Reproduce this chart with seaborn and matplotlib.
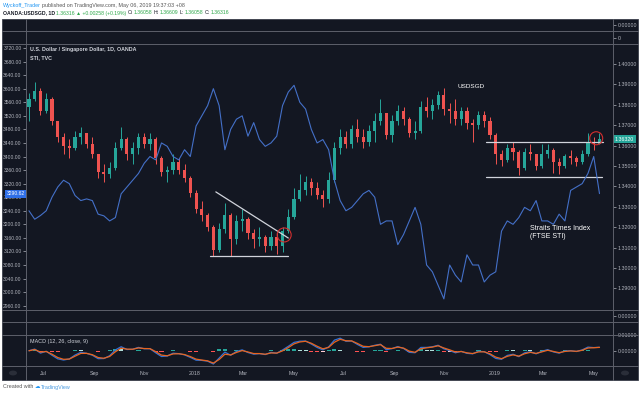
import matplotlib
matplotlib.use("Agg")
import matplotlib.pyplot as plt
import matplotlib.dates as mdates
import matplotlib.transforms as mtransforms
from matplotlib.lines import Line2D
from matplotlib.patches import Rectangle, Ellipse, Circle
import numpy as np
import pandas as pd
import seaborn as sns

W, H = 640, 394

# weekly USDSGD candles (open = previous close)
week_start = "2017-06-14"
usd_open_first = 1.3790
usd_close = [
    1.3830, 1.3870, 1.3770, 1.3830, 1.3720, 1.3640, 1.3600, 1.3590, 1.3640, 1.3660,
    1.3610, 1.3560, 1.3470, 1.3460, 1.3490, 1.3590, 1.3630, 1.3560, 1.3590, 1.3640,
    1.3610, 1.3630, 1.3540, 1.3470, 1.3480, 1.3520, 1.3480, 1.3440, 1.3370, 1.3290,
    1.3260, 1.3200, 1.3090, 1.3190, 1.3260, 1.3140, 1.3230, 1.3240, 1.3170, 1.3140,
    1.3150, 1.3110, 1.3150, 1.3110, 1.3180, 1.3250, 1.3340, 1.3380, 1.3420, 1.3390,
    1.3360, 1.3340, 1.3430, 1.3590, 1.3640, 1.3610, 1.3680, 1.3640, 1.3620, 1.3670,
    1.3720, 1.3760, 1.3650, 1.3720, 1.3770, 1.3730, 1.3660, 1.3670, 1.3790, 1.3770,
    1.3800, 1.3850, 1.3780, 1.3770, 1.3730, 1.3770, 1.3710, 1.3700, 1.3750, 1.3720,
    1.3650, 1.3560, 1.3530, 1.3590, 1.3570, 1.3490, 1.3570, 1.3560, 1.3500, 1.3560,
    1.3580, 1.3520, 1.3500, 1.3550, 1.3540, 1.3520, 1.3560, 1.3620, 1.3606, 1.3632,
]
usd_high = [
    1.3860, 1.3910, 1.3880, 1.3860, 1.3840, 1.3720, 1.3660, 1.3630, 1.3670, 1.3690,
    1.3660, 1.3640, 1.3560, 1.3510, 1.3520, 1.3620, 1.3690, 1.3640, 1.3620, 1.3660,
    1.3660, 1.3660, 1.3640, 1.3550, 1.3500, 1.3560, 1.3540, 1.3510, 1.3450, 1.3380,
    1.3330, 1.3270, 1.3210, 1.3220, 1.3320, 1.3270, 1.3260, 1.3290, 1.3250, 1.3190,
    1.3200, 1.3160, 1.3180, 1.3170, 1.3200, 1.3290, 1.3390, 1.3460, 1.3450, 1.3440,
    1.3420, 1.3380, 1.3470, 1.3620, 1.3680, 1.3670, 1.3700, 1.3730, 1.3680, 1.3700,
    1.3760, 1.3830, 1.3760, 1.3750, 1.3800, 1.3790, 1.3740, 1.3720, 1.3820, 1.3840,
    1.3830, 1.3870, 1.3880, 1.3810, 1.3830, 1.3790, 1.3790, 1.3730, 1.3770, 1.3770,
    1.3740, 1.3660, 1.3580, 1.3610, 1.3620, 1.3580, 1.3590, 1.3610, 1.3560, 1.3610,
    1.3610, 1.3590, 1.3540, 1.3560, 1.3580, 1.3550, 1.3580, 1.3660, 1.3640, 1.3661,
]
usd_low = [
    1.3720, 1.3820, 1.3750, 1.3760, 1.3700, 1.3620, 1.3560, 1.3540, 1.3580, 1.3610,
    1.3590, 1.3540, 1.3440, 1.3420, 1.3440, 1.3480, 1.3580, 1.3530, 1.3510, 1.3560,
    1.3590, 1.3580, 1.3510, 1.3450, 1.3420, 1.3460, 1.3460, 1.3420, 1.3350, 1.3270,
    1.3230, 1.3180, 1.3060, 1.3080, 1.3170, 1.3060, 1.3120, 1.3180, 1.3140, 1.3100,
    1.3110, 1.3080, 1.3090, 1.3070, 1.3080, 1.3170, 1.3240, 1.3330, 1.3360, 1.3360,
    1.3340, 1.3300, 1.3320, 1.3420, 1.3560, 1.3590, 1.3590, 1.3620, 1.3590, 1.3600,
    1.3620, 1.3700, 1.3630, 1.3620, 1.3700, 1.3700, 1.3640, 1.3630, 1.3660, 1.3740,
    1.3730, 1.3780, 1.3750, 1.3710, 1.3700, 1.3700, 1.3680, 1.3620, 1.3680, 1.3690,
    1.3630, 1.3510, 1.3500, 1.3520, 1.3530, 1.3456, 1.3480, 1.3530, 1.3480, 1.3490,
    1.3540, 1.3466, 1.3460, 1.3490, 1.3510, 1.3500, 1.3510, 1.3550, 1.3580, 1.3606,
]
# weekly Straits Times Index (left scale)
sti_close = [
    3240, 3215, 3226, 3240, 3280, 3310, 3330, 3320, 3285, 3270,
    3275, 3270, 3230, 3225, 3210, 3220, 3290, 3310, 3330, 3350,
    3380, 3400, 3390, 3440, 3430, 3400, 3390, 3420, 3400, 3490,
    3520, 3550, 3600, 3550, 3420, 3480, 3510, 3520, 3460, 3500,
    3450, 3430, 3440, 3460, 3550, 3590, 3610, 3560, 3540, 3480,
    3440, 3450, 3420, 3330, 3270, 3240, 3250, 3270, 3290, 3300,
    3280, 3200, 3210, 3210, 3140, 3170, 3210, 3250, 3200, 3080,
    3060, 3020, 2980, 3080, 3050, 3030, 3110, 3080, 3080, 3030,
    3050, 3060, 3180, 3210, 3200, 3220, 3250, 3240, 3270, 3210,
    3210, 3200, 3230, 3210, 3300, 3310, 3320, 3350, 3400, 3290.62,
]

sti_ticks = [2960, 3000, 3040, 3080, 3120, 3160, 3200, 3240, 3280, 3320,
             3360, 3400, 3440, 3480, 3520, 3560, 3600, 3640, 3680, 3720]
usd_ticks = [1.29, 1.30, 1.31, 1.32, 1.33, 1.34, 1.35, 1.36, 1.37, 1.38, 1.39, 1.40]
time_ticks = ["2017-07-01", "2017-09-01", "2017-11-01", "2018-01-01", "2018-03-01",
              "2018-05-01", "2018-07-01", "2018-09-01", "2018-11-01", "2019-01-01",
              "2019-03-01", "2019-05-01"]
time_labels = ["Jul", "Sep", "Nov", "2018", "Mar", "May", "Jul", "Sep", "Nov",
               "2019", "Mar", "May"]

# hand-drawn annotations (date, price)
triangle_top = (("2018-01-27", 1.3373), ("2018-04-25", 1.3147))
triangle_base = (("2018-01-20", 1.3060), ("2018-04-25", 1.3060))
resistance = (("2018-12-21", 1.3619), ("2019-05-12", 1.3619))
support = (("2018-12-21", 1.3445), ("2019-05-11", 1.3445))
circles = [("2018-04-20", 1.3162, 14), ("2019-05-04", 1.3636, 13)]

BG = "#131722"
SEP = "#5d606b"
TXT = "#b2b5be"
UP = "#26a69a"
DOWN = "#ef5350"
BLUE = "#4470c8"

sns.set_theme(style="dark")
plt.rcParams["font.family"] = ["Liberation Sans", "DejaVu Sans"]

fig = plt.figure(figsize=(6.4, 3.94), dpi=100)
fig.patch.set_facecolor("white")
fig.add_artist(Rectangle((2 / W, 1 - 380 / H), 636 / W, 361 / H, transform=fig.transFigure,
                         fc=BG, ec="#3a3e4a", lw=0.6, zorder=-1))

xmin = mdates.date2num(pd.Timestamp("2017-06-10 10:00"))
xmax = mdates.date2num(pd.Timestamp("2019-05-24 10:00"))


def add_pane(y0, y1):
    ax = fig.add_axes([26 / W, 1 - y1 / H, 587 / W, (y1 - y0) / H])
    ax.set_facecolor("none")
    for s in ax.spines.values():
        s.set_visible(False)
    ax.set_xlim(xmin, xmax)
    ax.set_xticks([])
    ax.set_yticks([])
    ax.grid(False)
    return ax


def right_ticks(ax, ticks, labels):
    ax.yaxis.tick_right()
    ax.set_yticks(ticks)
    ax.set_yticklabels(labels)
    ax.tick_params(axis="y", right=True, left=False, labelright=True, labelleft=False,
                   length=2, width=0.5, color=TXT, labelcolor=TXT, labelsize=3.8, pad=1.5)


dates = pd.date_range(week_start, periods=len(usd_close), freq="7D")
xnum = mdates.date2num(dates)
c = np.array(usd_close)
o = np.array([usd_open_first] + usd_close[:-1])
colors = np.where(c >= o, UP, DOWN)

# main pane: USDSGD candles (right scale) + STI line (left scale)
ax_fx = add_pane(44, 310)
ax_sti = ax_fx.twinx()
ax_sti.set_facecolor("none")
for s in ax_sti.spines.values():
    s.set_visible(False)

ax_fx.set_ylim(1.27941, 1.40980)
ax_fx.vlines(xnum, usd_low, usd_high, colors=colors, lw=0.7, zorder=2)
ax_fx.bar(xnum, np.maximum(np.abs(c - o), 0.0003), bottom=np.minimum(o, c), width=3.8,
          color=colors, lw=0, zorder=3)
right_ticks(ax_fx, usd_ticks, [f"{v:.5f}" for v in usd_ticks])

line_kw = dict(color="#d1d4dc", lw=0.9, zorder=4)
for seg in (triangle_top, triangle_base, resistance, support):
    xs = [mdates.date2num(pd.Timestamp(d)) for d, _ in seg]
    ax_fx.plot(xs, [p for _, p in seg], **line_kw)
days_per_px = (xmax - xmin) / 587
price_per_px = (1.40980 - 1.27941) / 266
for d, p, diam in circles:
    ax_fx.add_patch(Ellipse((mdates.date2num(pd.Timestamp(d)), p), diam * days_per_px,
                            diam * price_per_px, fill=False, ec="#d32f2f", lw=0.8, zorder=5))

sns.lineplot(x=xnum, y=sti_close, ax=ax_sti, color=BLUE, lw=0.8, zorder=6)
ax_sti.set_xlim(xmin, xmax)
ax_sti.set_ylim(2947.3, 3731.8)
ax_sti.set_xlabel("")
ax_sti.set_ylabel("")
ax_sti.yaxis.tick_left()
ax_sti.set_yticks(sti_ticks)
ax_sti.set_yticklabels([f"{v:.2f}" for v in sti_ticks])
ax_sti.tick_params(axis="y", left=True, right=False, labelleft=True, labelright=False,
                   length=2, width=0.5, color=TXT, labelcolor=TXT, labelsize=3.6, pad=1.2)
ax_sti.grid(False)

# last-value badges on both price scales
blend_l = mtransforms.blended_transform_factory(ax_sti.transAxes, ax_sti.transData)
ax_sti.text(-1.5 / 587, sti_close[-1], f"{sti_close[-1]:.2f}", transform=blend_l, ha="right",
            va="center", fontsize=3.6, color="white", clip_on=False, zorder=20,
            bbox=dict(boxstyle="square,pad=0.3", fc="#2f6fe8", ec="none"))
fx_in_sti = 3731.8 - (1.40980 - usd_close[-1]) / (1.40980 - 1.27941) * (3731.8 - 2947.3)
ax_sti.text(1 + 2 / 587, fx_in_sti, f"{usd_close[-1]:.5f}", transform=blend_l, ha="left",
            va="center", fontsize=3.8, color="white", clip_on=False, zorder=20,
            bbox=dict(boxstyle="square,pad=0.3", fc=UP, ec="none"))

# empty indicator panes
for (y0, y1), lab in (((19, 31), "0.00000"), ((31, 44), "0"), ((310, 322), "0.00000"),
                      ((322, 335), None)):
    ax_e = add_pane(y0, y1)
    ax_e.set_ylim(-1, 1)
    if lab:
        right_ticks(ax_e, [0], [lab])

# MACD pane, computed from the closes (daily spans scaled to weekly bars)
ax_m = add_pane(335, 366)
cs = pd.Series(usd_close)
macd = cs.ewm(span=12 / 5, adjust=False).mean() - cs.ewm(span=26 / 5, adjust=False).mean()
signal = macd.ewm(span=9 / 5, adjust=False).mean()
hist = (macd - signal).to_numpy()
prev = np.r_[0, hist[:-1]]
hcol = np.where(hist >= 0, np.where(hist >= prev, "#26a69a", "#b2dfdb"),
                np.where(hist < prev, "#ff5252", "#ffcdd2"))
ax_m.bar(xnum, hist, width=5, color=hcol, lw=0, zorder=2)
sns.lineplot(x=xnum, y=macd.to_numpy(), ax=ax_m, color="#2f72d8", lw=0.9, zorder=3)
sns.lineplot(x=xnum, y=signal.to_numpy(), ax=ax_m, color="#e8641e", lw=0.9, zorder=4)
ax_m.set_xlim(xmin, xmax)
ax_m.set_ylim(-0.00968, 0.0100)
ax_m.set_xlabel("")
ax_m.set_ylabel("")
right_ticks(ax_m, [0, 0.01], ["0.00000", "0.01000"])

# time axis
ax_t = add_pane(366, 380)
ax_t.set_ylim(0, 1)
blend_t = mtransforms.blended_transform_factory(ax_t.transData, ax_t.transAxes)
for d, lab in zip(time_ticks, time_labels):
    ax_t.text(mdates.date2num(pd.Timestamp(d)), 0.45, lab, transform=blend_t, ha="center",
              va="center", fontsize=3.8, color=TXT)

# pane separators
for y in (31, 44, 310, 322, 335, 366):
    fig.add_artist(Line2D([2 / W, 638 / W], [1 - y / H] * 2, transform=fig.transFigure,
                          color=SEP, lw=0.7, zorder=1))
for x in (26, 613):
    fig.add_artist(Line2D([x / W] * 2, [1 - 19 / H, 1 - 380 / H], transform=fig.transFigure,
                          color=SEP, lw=0.7, zorder=1))
for x in (13, 625):
    fig.add_artist(Circle((x / W, 1 - 373 / H), 4 / W, transform=fig.transFigure,
                          fc="#2a2e39", ec="none", zorder=2))


def ftext(x, y, s, **kw):
    kw.setdefault("fontsize", 4)
    kw.setdefault("va", "center")
    return fig.text(x / W, 1 - y / H, s, **kw)


ftext(30, 50, "U.S. Dollar / Singapore Dollar, 1D, OANDA", color="#d1d4dc", fontweight="bold",
      fontsize=3.8)
ftext(30, 58, "STI, TVC", color="#d1d4dc", fontweight="bold", fontsize=3.8)
ftext(30, 341, "MACD (12, 26, close, 9)", color="#d1d4dc", fontsize=3.9)
ftext(458, 86, "USDSGD", color="white", fontsize=4.6)
ftext(530, 229, "Straits Times Index", color="white", fontsize=5)
ftext(530, 237, "(FTSE STI)", color="white", fontsize=5)

renderer = fig.canvas.get_renderer()


def seq_text(x, y, parts, size=3.9):
    for s, col, weight in parts:
        t = ftext(x, y, s, color=col, fontweight=weight, fontsize=size)
        x += t.get_window_extent(renderer).width + 1.1


GREEN = "#2ea84a"
DARK = "#131722"
seq_text(3, 5, [("Wyckoff_Trader", "#2196f3", "normal"),
                ("published on TradingView.com, May 06, 2019 19:37:03 +08", "#555555", "normal")])
seq_text(3, 13, [("OANDA:USDSGD, 1D", DARK, "bold"), ("1.36316 \u25b2 +0.00258 (+0.19%)", GREEN, "normal"),
                 ("O:", DARK, "normal"), ("1.36058", GREEN, "normal"), ("H:", DARK, "normal"),
                 ("1.36609", GREEN, "normal"), ("L:", DARK, "normal"), ("1.36058", GREEN, "normal"),
                 ("C:", DARK, "normal"), ("1.36316", GREEN, "normal")], size=3.7)
seq_text(3, 387, [("Created with", "#555555", "normal"), ("\u2601", "#2196f3", "normal"),
                  ("TradingView", "#4a9be0", "normal")])

fig.savefig("out.png", dpi=100, facecolor=fig.get_facecolor())
